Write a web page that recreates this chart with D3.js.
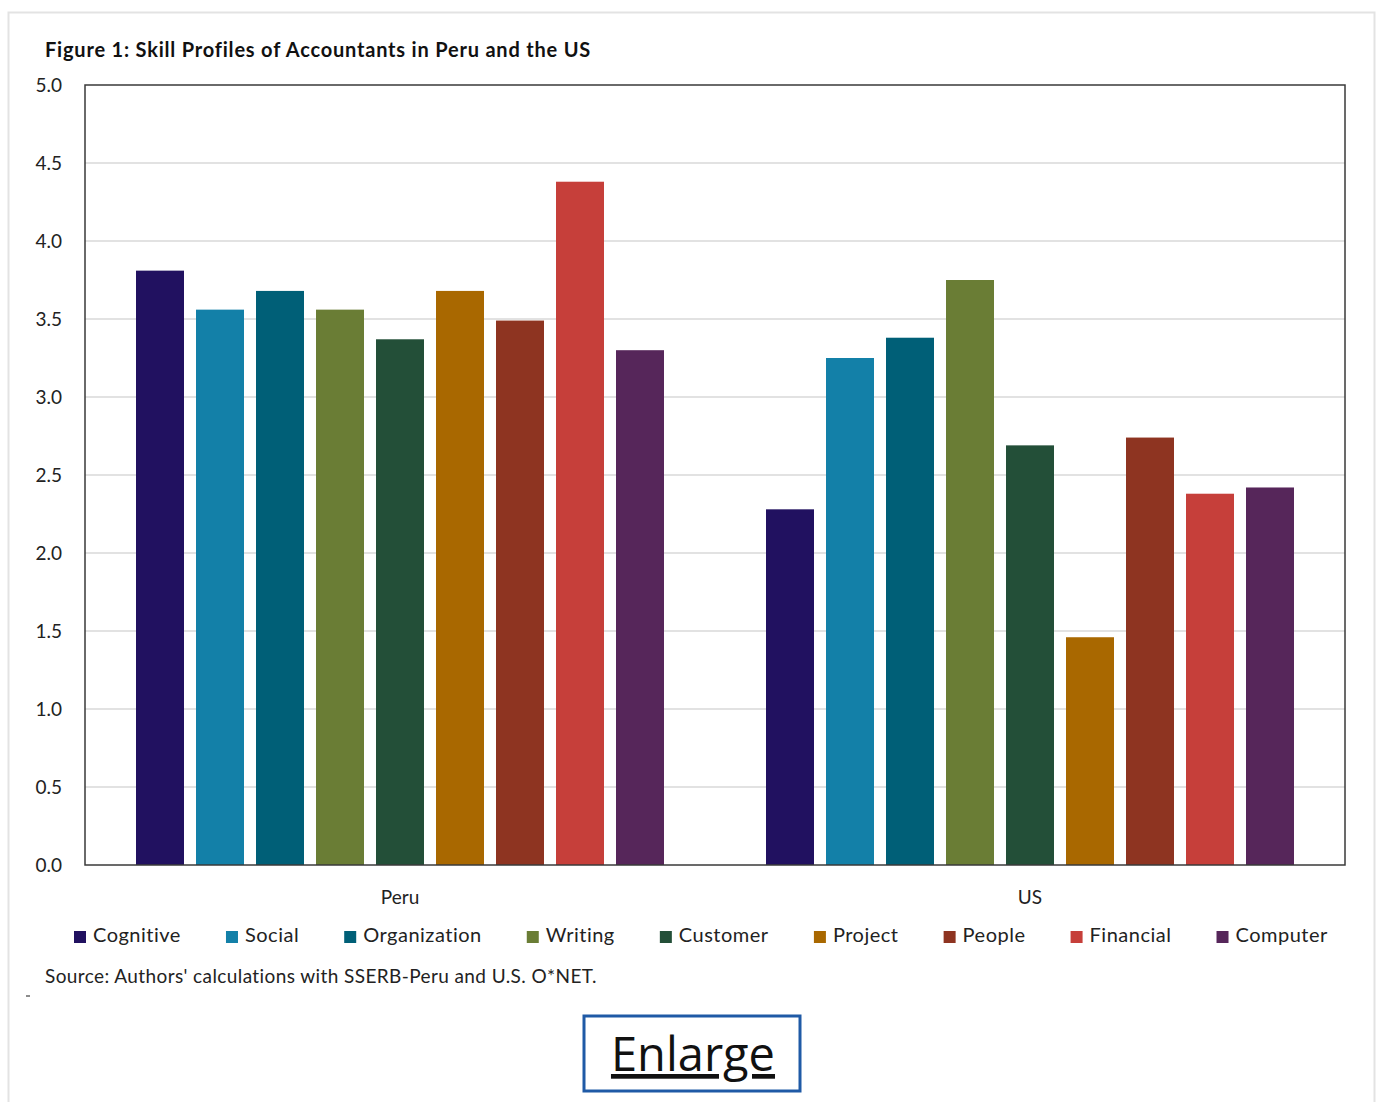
<!DOCTYPE html>
<html>
<head>
<meta charset="utf-8">
<script src="https://cdn.jsdelivr.net/npm/d3@7"></script>
<style>
  html, body { margin: 0; padding: 0; background: #ffffff; }
  svg { display: block; }
</style>
</head>
<body>
<svg id="chart" width="1377" height="1102"></svg>
<script>
// ---- data ----
const groups = ["Peru", "US"];
const skills = ["Cognitive", "Social", "Organization", "Writing", "Customer", "Project", "People", "Financial", "Computer"];
const peruValues = [3.81, 3.56, 3.68, 3.56, 3.37, 3.68, 3.49, 4.38, 3.30];
const usValues = [2.28, 3.25, 3.38, 3.75, 2.69, 1.46, 2.74, 2.38, 2.42];
const yTicks = [0, 0.5, 1.0, 1.5, 2.0, 2.5, 3.0, 3.5, 4.0, 4.5, 5.0];
const skillColors = ["#211160", "#1380A8", "#005F77", "#6A7D35", "#234F38", "#A96800", "#8E3421", "#C63F3A", "#56265A"];
const titleText = "Figure 1: Skill Profiles of Accountants in Peru and the US";
const sourceText = "Source: Authors' calculations with SSERB-Peru and U.S. O*NET.";

const seriesByGroup = { "Peru": peruValues, "US": usValues };

// ---- layout ----
const svg = d3.select("#chart");
const font = "Lato, 'Open Sans', sans-serif";
const plot = { left: 85, right: 1345, top: 85, bottom: 865 };

// outer frame
svg.append("rect")
  .attr("x", 8.5).attr("y", 12.5)
  .attr("width", 1366).attr("height", 1120)
  .attr("fill", "none").attr("stroke", "#e3e3e3").attr("stroke-width", 2);

const x0 = d3.scaleBand().domain(groups).range([plot.left, plot.right]).padding(0);
const x1 = d3.scaleBand().domain(skills).range([45, x0.bandwidth() - 45]).paddingInner(0.2).paddingOuter(0.1);
const y = d3.scaleLinear().domain([0, 5]).range([plot.bottom, plot.top]);
const color = d3.scaleOrdinal().domain(skills).range(skillColors);

// gridlines
svg.append("g")
  .selectAll("line")
  .data(yTicks.filter(t => t > 0 && t < 5))
  .join("line")
  .attr("x1", plot.left).attr("x2", plot.right)
  .attr("y1", d => y(d)).attr("y2", d => y(d))
  .attr("stroke", "#d9d9d9").attr("stroke-width", 1.5);

// y axis labels
const yAxis = d3.axisLeft(y).tickValues(yTicks).tickFormat(d3.format(".1f")).tickSize(0).tickPadding(23);
const yg = svg.append("g").attr("transform", `translate(${plot.left},0)`).call(yAxis);
yg.select(".domain").remove();
yg.selectAll("text")
  .attr("font-family", font).attr("font-size", 19).attr("fill", "#222");

// bars
const rows = groups.flatMap(g => skills.map((s, i) => ({ group: g, skill: s, value: seriesByGroup[g][i] })));
svg.append("g")
  .selectAll("rect")
  .data(rows)
  .join("rect")
  .attr("x", d => x0(d.group) + x1(d.skill))
  .attr("y", d => y(d.value))
  .attr("width", x1.bandwidth())
  .attr("height", d => y(0) - y(d.value))
  .attr("fill", d => color(d.skill));

// plot border
svg.append("rect")
  .attr("x", plot.left).attr("y", plot.top)
  .attr("width", plot.right - plot.left).attr("height", plot.bottom - plot.top)
  .attr("fill", "none").attr("stroke", "#3a3a3a").attr("stroke-width", 1.5);

// category axis
const xAxis = d3.axisBottom(x0).tickSize(0).tickPadding(26);
const xg = svg.append("g").attr("transform", `translate(0,${plot.bottom})`).call(xAxis);
xg.select(".domain").remove();
xg.selectAll("text")
  .attr("font-family", font).attr("font-size", 19).attr("fill", "#222");

// title
svg.append("text")
  .attr("x", 45).attr("y", 57)
  .attr("font-family", font).attr("font-weight", "bold").attr("font-size", 20)
  .attr("letter-spacing", 0.8)
  .attr("fill", "#111")
  .text(titleText);

// legend
const legend = svg.append("g");
const items = legend.selectAll("g").data(skills).join("g");
items.append("rect")
  .attr("width", 12).attr("height", 12)
  .attr("fill", d => color(d));
items.append("text")
  .attr("x", 19).attr("y", 11)
  .attr("font-family", font).attr("font-size", 20).attr("fill", "#222")
  .attr("letter-spacing", 0.5)
  .text(d => d);
const widths = [];
items.each(function() { widths.push(this.getBBox().width); });
const legStart = 74, legEnd = 1328;
const totalW = d3.sum(widths);
const gap = (legEnd - legStart - totalW) / (skills.length - 1);
let cx = legStart;
items.attr("transform", (d, i) => { const t = `translate(${cx},931)`; cx += widths[i] + gap; return t; });

// source
svg.append("text")
  .attr("x", 45).attr("y", 983)
  .attr("font-family", font).attr("font-size", 19).attr("fill", "#222")
  .attr("letter-spacing", 0.4)
  .text(sourceText);

// tiny mark
svg.append("line").attr("x1", 26).attr("x2", 30).attr("y1", 996).attr("y2", 996)
  .attr("stroke", "#666").attr("stroke-width", 1.5);

// Enlarge button
svg.append("rect")
  .attr("x", 584).attr("y", 1016).attr("width", 216).attr("height", 75)
  .attr("fill", "#fff").attr("stroke", "#1F5AA6").attr("stroke-width", 3);
svg.append("text")
  .attr("x", 693).attr("y", 1071)
  .attr("text-anchor", "middle")
  .attr("font-family", "'Open Sans', sans-serif").attr("font-size", 47).attr("fill", "#111")
  .attr("text-decoration", "underline")
  .text("Enlarge");
</script>
</body>
</html>
